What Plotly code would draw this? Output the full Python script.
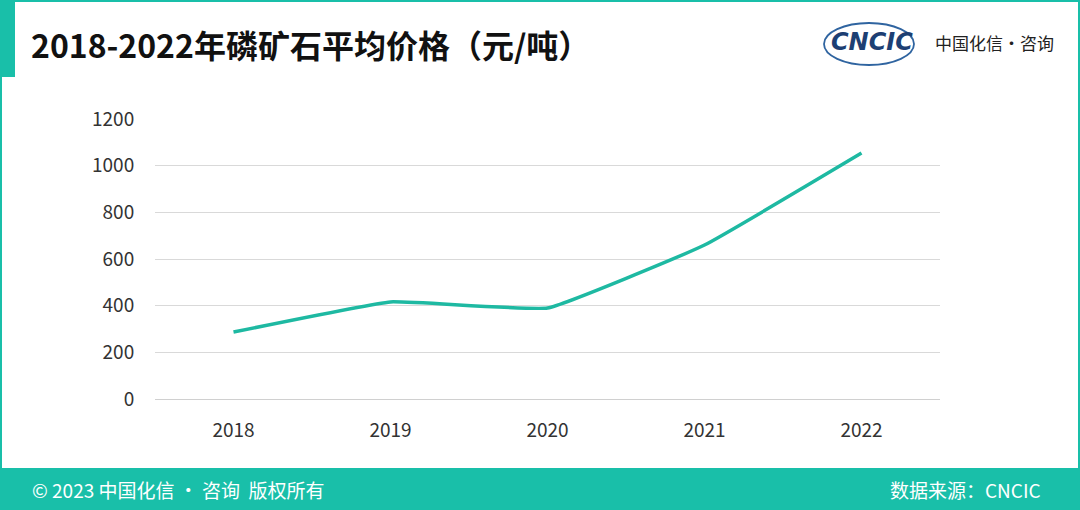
import plotly.graph_objects as go

years = ["2018", "2019", "2020", "2021", "2022"]
prices = [287, 416, 390, 660, 1054]
y_ticks = [0, 200, 400, 600, 800, 1000, 1200]

W, H = 1080, 510
L, R, T, B = 155, 940, 119, 399
TEAL = "#19bfa9"
LINE = "#1eb9a2"
FONT = "Noto Sans CJK SC"

def px(x):
    return (x - L) / (R - L)

def py(y):
    return (B - y) / (B - T)

fig = go.Figure()
fig.add_trace(go.Scatter(
    x=years, y=prices, mode="lines",
    line=dict(color=LINE, width=3.5, shape="spline", smoothing=0.3),
    hoverinfo="x+y", showlegend=False,
))

shapes = [
    dict(type="rect", xref="paper", yref="paper", x0=px(1), x1=px(W - 1), y0=py(H - 1), y1=py(1),
         line=dict(color=TEAL, width=2), fillcolor="rgba(0,0,0,0)", layer="above"),
    dict(type="rect", xref="paper", yref="paper", x0=px(0), x1=px(W), y0=py(H), y1=py(468),
         line=dict(width=0), fillcolor=TEAL, layer="above"),
    dict(type="rect", xref="paper", yref="paper", x0=px(0), x1=px(15), y0=py(77), y1=py(0),
         line=dict(width=0), fillcolor=TEAL, layer="above"),
    dict(type="circle", xref="paper", yref="paper", x0=px(824), x1=px(914), y0=py(65), y1=py(23),
         line=dict(color="#2f64a0", width=1.8), fillcolor="rgba(0,0,0,0)", layer="below"),
]

annotations = [
    dict(text="<b>2018-2022年磷矿石平均价格（元/吨）</b>", xref="paper", yref="paper",
         x=px(29), y=py(44), xanchor="left", yanchor="middle", showarrow=False,
         font=dict(family=FONT, size=32, color="#111111")),
    dict(text="<b><i>CNCIC</i></b>", xref="paper", yref="paper",
         x=px(872), y=py(42), xanchor="center", yanchor="middle", showarrow=False,
         font=dict(family="DejaVu Sans", size=24, color="#1d3f73")),
    dict(text="中国化信·咨询", xref="paper", yref="paper",
         x=px(933), y=py(42), xanchor="left", yanchor="middle", showarrow=False,
         font=dict(family=FONT, size=17, color="#222222")),
    dict(text="© 2023 中国化信 • 咨询  版权所有", xref="paper", yref="paper",
         x=px(30), y=py(489), xanchor="left", yanchor="middle", showarrow=False,
         font=dict(family=FONT, size=19, color="white")),
    dict(text="数据来源：CNCIC", xref="paper", yref="paper",
         x=px(1043), y=py(489), xanchor="right", yanchor="middle", showarrow=False,
         font=dict(family=FONT, size=19, color="white")),
]

fig.update_layout(
    width=W, height=H,
    margin=dict(l=L, r=W - R, t=T, b=H - B, pad=0),
    paper_bgcolor="white", plot_bgcolor="white",
    shapes=shapes, annotations=annotations,
    font=dict(family=FONT, size=19, color="#333333"),
    xaxis=dict(type="category", range=[-0.5, 4.5], showgrid=False, showline=False, zeroline=False,
               ticks="outside", ticklen=14, tickcolor="rgba(0,0,0,0)",
               tickfont=dict(size=19, color="#333333")),
    yaxis=dict(range=[0, 1200], tickvals=y_ticks, showgrid=True, gridcolor="#d9d9d9", gridwidth=1,
               zeroline=True, zerolinecolor="#d0d0d0", zerolinewidth=1, showline=False,
               ticks="outside", ticklen=16, tickcolor="rgba(0,0,0,0)",
               tickfont=dict(size=19, color="#333333")),
)

fig.write_html("out.html", config={"displayModeBar": False},
               post_script="document.body.style.margin='0';document.body.style.overflow='hidden';")
